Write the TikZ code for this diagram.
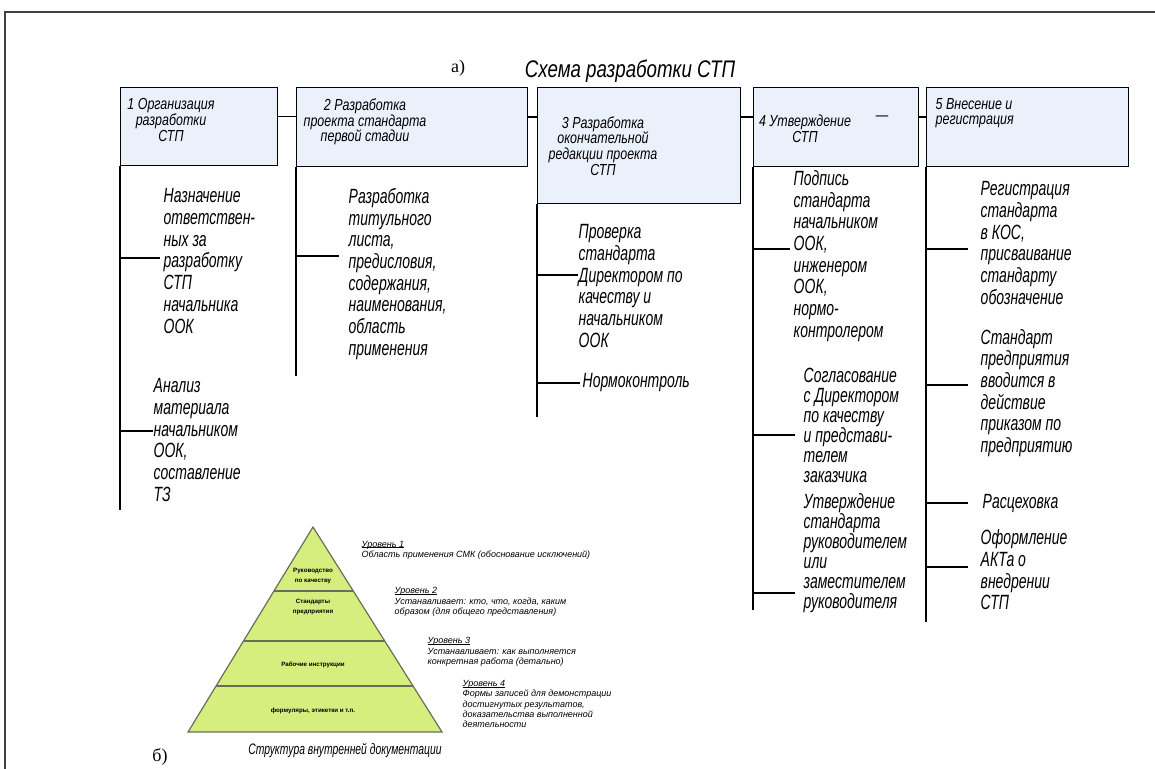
\documentclass[tikz,border=0pt]{standalone}
\usepackage{fontspec}
\setmainfont{Liberation Serif}
\newfontfamily\gostfont[FakeStretch=0.78]{Liberation Sans}
\newfontfamily\gostnarrow[FakeStretch=0.68]{Liberation Sans}
\newfontfamily\smallsans{Liberation Sans}
\usetikzlibrary{positioning,calc}
\definecolor{boxblue}{RGB}{235,241,250}
\definecolor{pyrgreen}{RGB}{214,238,125}
\definecolor{pyredge}{RGB}{105,110,90}
\newcommand\levelhead[1]{\setbox0\hbox{#1}\rlap{\rule[-0.45pt]{\wd0}{0.25pt}}\box0}

\begin{document}
\begin{tikzpicture}[x=0.5pt, y=-0.5pt, line width=0.7pt,
    stage/.style={rectangle, draw, fill=boxblue, anchor=north west, inner sep=0pt},
    stagetext/.style={align=center, inner sep=0pt, font=\gostfont\itshape\fontsize{8}{7.8}\selectfont},
    item/.style={anchor=west, align=left, inner sep=0pt, font=\gostnarrow\itshape\fontsize{10.3}{10.85}\selectfont},
    tightitem/.style={item, font=\gostnarrow\itshape\fontsize{10.3}{10}\selectfont},
    tier/.style={align=center, inner sep=0pt, font=\smallsans\bfseries\fontsize{3.1}{4.6}\selectfont},
    level/.style={anchor=west, align=left, inner sep=0pt, font=\smallsans\itshape\fontsize{4.5}{5.15}\selectfont}]
    \useasboundingbox (0,0) rectangle (1155,769);
    \draw[line width=0.8pt, black!75] (5,769) -- (5,12) -- (1155,12);

    \node (tagA) at (458,68) {\fontsize{9}{10}\selectfont а)};
    \node[font=\gostfont\itshape\fontsize{12}{14}\selectfont] (title) at (630,71) {Схема разработки СТП};

    \node[stage, minimum width=78.5pt, minimum height=39pt] (org) at (120,87) {};
    \node[stage, minimum width=115.5pt, minimum height=39.5pt] (draft) at (296,87) {};
    \node[stage, minimum width=101.5pt, minimum height=58pt] (final) at (537,87) {};
    \node[stage, minimum width=82.5pt, minimum height=39.5pt] (approve) at (753,87) {};
    \node[stage, minimum width=101pt, minimum height=39.5pt] (reg) at (926,87) {};

    \node[stagetext] (orgT) at (171,120) {1 Организация\\разработки\\СТП};
    \node[stagetext] (draftT) at (365,122) {2 Разработка\\проекта стандарта\\первой стадии};
    \node[stagetext] (finalT) at (603,146) {3 Разработка\\окончательной\\редакции проекта\\СТП};
    \node[stagetext] (approveT) at (805,129) {4 Утверждение\\СТП};
    \node[stagetext] (approveDash) at (882,118) {—};
    \node[stagetext, anchor=west, align=left] (regT) at (935,113) {5 Внесение и\\регистрация};

    \draw ([yshift=5pt]org.east) -- ([yshift=5pt]org.east -| draft.west);
    \draw ([yshift=5pt]draft.east) -- ([yshift=5pt]draft.east -| final.west);
    \draw ([yshift=5pt]approve.west -| final.east) -- ([yshift=5pt]approve.west);
    \draw ([yshift=5pt]approve.east) -- ([yshift=5pt]approve.east -| reg.west);

    \node[item] (orgA) at (163,261) {Назначение\\ответствен-\\ных за\\разработку\\СТП\\начальника\\ООК};
    \node[item] (orgB) at (153,440) {Анализ\\материала\\начальником\\ООК,\\составление\\ТЗ};
    \coordinate (orgEnd) at (120,510);
    \coordinate (orgKa) at (120,258);
    \coordinate (orgKb) at (120,431);
    \draw (org.south west) -- (orgEnd);
    \draw (orgKa) -- ([xshift=-1.5pt]orgKa -| orgA.west);
    \draw (orgKb) -- (orgKb -| orgB.west);

    \node[item] (draftA) at (348,274) {Разработка\\титульного\\листа,\\предисловия,\\содержания,\\наименования,\\область\\применения};
    \coordinate (draftEnd) at (296,376);
    \coordinate (draftK) at (296,256);
    \draw (draft.south west) -- (draftEnd);
    \draw (draftK) -- ([xshift=-4.5pt]draftK -| draftA.west);

    \node[item] (finalA) at (578,286) {Проверка\\стандарта\\Директором по\\качеству и\\начальником\\ООК};
    \node[item] (finalB) at (582,383) {Нормоконтроль};
    \coordinate (finalEnd) at (537,417);
    \coordinate (finalKa) at (537,275);
    \coordinate (finalKb) at (537,383);
    \draw (final.south west) -- (finalEnd);
    \draw (finalKa) -- (finalKa -| finalA.west);
    \draw (finalKb) -- ([xshift=-1pt]finalKb -| finalB.west);

    \node[item] (approveA) at (793,256) {Подпись\\стандарта\\начальником\\ООК,\\инженером\\ООК,\\нормо-\\контролером};
    \node[tightitem] (approveB) at (803,425) {Согласование\\с Директором\\по качеству\\и представи-\\телем\\заказчика};
    \node[tightitem] (approveC) at (803,553) {Утверждение\\стандарта\\руководителем\\или\\заместителем\\руководителя};
    \coordinate (approveEnd) at (753,610);
    \coordinate (approveKa) at (753,249);
    \coordinate (approveKb) at (753,435);
    \coordinate (approveKc) at (753,593);
    \draw (approve.south west) -- (approveEnd);
    \draw (approveKa) -- ([xshift=-1.5pt]approveKa -| approveA.west);
    \draw (approveKb) -- ([xshift=-4pt]approveKb -| approveB.west);
    \draw (approveKc) -- ([xshift=-4pt]approveKc -| approveC.west);

    \node[item] (regA) at (980,243) {Регистрация\\стандарта\\в КОС,\\присваивание\\стандарту\\обозначение};
    \node[item] (regB) at (980,393) {Стандарт\\предприятия\\вводится в\\действие\\приказом по\\предприятию};
    \node[item] (regC) at (982,503) {Расцеховка};
    \node[item] (regD) at (980,570) {Оформление\\АКТа о\\внедрении\\СТП};
    \coordinate (regEnd) at (926,622);
    \coordinate (regKa) at (926,249);
    \coordinate (regKb) at (926,385);
    \coordinate (regKc) at (926,503);
    \coordinate (regKd) at (926,567);
    \draw (reg.south west) -- (regEnd);
    \draw (regKa) -- ([xshift=-6pt]regKa -| regA.west);
    \draw (regKb) -- ([xshift=-6pt]regKb -| regB.west);
    \draw (regKc) -- ([xshift=-7pt]regKc -| regC.west);
    \draw (regKd) -- ([xshift=-6pt]regKd -| regD.west);

    \coordinate (apex) at (313,527);
    \coordinate (bl) at (188,732);
    \coordinate (br) at (442,732);
    \filldraw[fill=pyrgreen, draw=pyredge, line width=0.6pt] (apex) -- (br) -- (bl) -- cycle;
    \foreach \t in {0.312,0.556,0.776}
        \draw[pyredge, line width=0.6pt] ($(apex)!\t!(bl)$) -- ($(apex)!\t!(br)$);
    \node[tier] (tier1) at (313,576) {Руководство\\по качеству};
    \node[tier] (tier2) at (313,607) {Стандарты\\предприятия};
    \node[tier] (tier3) at (313,665) {Рабочие инструкции};
    \node[tier] (tier4) at (313,711) {формуляры, этикетки и т.п.};

    \node[level] (level1) at (361,550) {\levelhead{Уровень 1}\\Область применения СМК (обоснование исключений)};
    \node[level] (level2) at (394,602) {\levelhead{Уровень 2}\\Устанавливает: кто, что, когда, каким\\образом (для общего представления)};
    \node[level] (level3) at (427,652) {\levelhead{Уровень 3}\\Устанавливает: как выполняется\\конкретная работа (детально)};
    \node[level] (level4) at (462,704) {\levelhead{Уровень 4}\\Формы записей для демонстрации\\достигнутых результатов,\\доказательства выполненной\\деятельности};

    \node[font=\gostnarrow\itshape\fontsize{7.6}{9}\selectfont] (caption) at (345,750) {Структура внутренней документации};
    \node (tagB) at (160,757) {\fontsize{9}{10}\selectfont б)};
\end{tikzpicture}
\end{document}
